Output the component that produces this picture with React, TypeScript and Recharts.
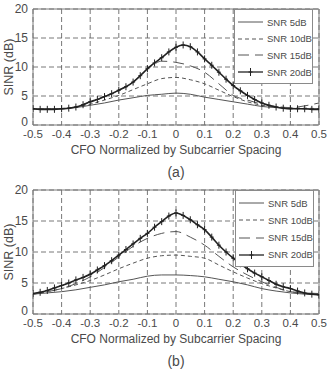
import React from 'react';
import {
  LineChart,
  Line,
  XAxis,
  YAxis,
  CartesianGrid,
  ReferenceArea,
  Label,
} from 'recharts';

// CFO grid for the thin curves (step 0.05) and the 20 dB curve (step 0.025)
const cfoCoarse = [
  -0.5, -0.45, -0.4, -0.35, -0.3, -0.25, -0.2, -0.15, -0.1, -0.05, 0,
  0.05, 0.1, 0.15, 0.2, 0.25, 0.3, 0.35, 0.4, 0.45, 0.5,
];
const cfoFine = [
  -0.5, -0.475, -0.45, -0.425, -0.4, -0.375, -0.35, -0.325, -0.3, -0.275,
  -0.25, -0.225, -0.2, -0.175, -0.15, -0.125, -0.1, -0.075, -0.05, -0.025, 0,
  0.025, 0.05, 0.075, 0.1, 0.125, 0.15, 0.175, 0.2, 0.225, 0.25, 0.275, 0.3,
  0.325, 0.35, 0.375, 0.4, 0.425, 0.45, 0.475, 0.5,
];

// panel (a)
const snr5a = [2.8, 2.8, 2.8, 3.0, 3.4, 3.8, 4.3, 4.7, 5.1, 5.3, 5.5, 5.3, 4.8, 4.4, 4.0, 3.6, 3.2, 3.0, 2.9, 2.8, 2.8];
const snr10a = [2.8, 2.8, 2.8, 3.1, 3.6, 4.3, 5.1, 6.1, 7.1, 8.0, 8.2, 7.8, 7.1, 6.0, 4.9, 4.0, 3.4, 3.1, 2.9, 2.9, 2.8];
const snr15a = [2.8, 2.7, 2.8, 3.1, 4.0, 4.9, 6.0, 7.4, 9.6, 11.0, 10.8, 10.2, 9.1, 7.1, 5.1, 4.3, 3.6, 3.2, 3.0, 3.3, 3.8];
const snr20a = [
  2.8, 2.7, 2.7, 2.7, 2.8, 2.9, 3.1, 3.5, 4.0, 4.4, 4.9, 5.4, 6.0, 6.6, 7.4,
  8.5, 9.7, 10.7, 11.6, 12.6, 13.4, 13.8, 13.5, 12.6, 11.4, 10.3, 9.1, 7.9,
  6.8, 5.9, 5.1, 4.4, 3.8, 3.4, 3.1, 2.9, 2.8, 2.8, 2.8, 2.7, 2.7,
];

// panel (b)
const snr5b = [3.2, 3.4, 3.6, 3.9, 4.3, 4.7, 5.2, 5.6, 6.1, 6.3, 6.3, 6.2, 6.0, 5.6, 5.2, 4.7, 4.1, 3.7, 3.4, 3.2, 3.1];
const snr10b = [3.2, 3.6, 4.1, 4.7, 5.4, 6.3, 7.3, 8.2, 9.0, 9.4, 9.5, 9.3, 9.0, 7.9, 6.8, 5.8, 4.9, 4.2, 3.6, 3.3, 3.1];
const snr15b = [3.2, 3.6, 4.1, 4.9, 6.0, 7.5, 9.2, 10.9, 12.2, 13.0, 13.3, 12.4, 11.1, 9.3, 7.6, 6.3, 5.2, 4.3, 3.6, 3.4, 3.3];
const snr20b = [
  3.3, 3.5, 3.8, 4.2, 4.6, 5.0, 5.5, 5.9, 6.4, 7.1, 7.8, 8.6, 9.5, 10.4, 11.3,
  12.2, 13.0, 14.0, 14.9, 15.8, 16.3, 15.9, 15.2, 14.4, 13.6, 12.4, 11.1, 10.0,
  9.0, 8.1, 7.3, 6.6, 6.0, 5.4, 4.8, 4.4, 4.1, 3.7, 3.4, 3.2, 3.1,
];

const xTicks = [-0.5, -0.4, -0.3, -0.2, -0.1, 0, 0.1, 0.2, 0.3, 0.4, 0.5];
const yTicks = [0, 5, 10, 15, 20];
const legendNames = ['SNR 5dB', 'SNR 10dB', 'SNR 15dB', 'SNR 20dB'];

const FONT = '"Liberation Sans", Arial, sans-serif';
const INK = '#4a4a4a';

const toPoints = (xs: number[], ys: number[]) => xs.map((x, i) => ({ x, y: ys[i] }));

const styles = [
  { stroke: '#555', width: 1, dash: undefined as string | undefined },
  { stroke: '#555', width: 1, dash: '4 3' },
  { stroke: '#555', width: 1, dash: '11 6' },
  { stroke: '#222', width: 1.6, dash: undefined as string | undefined },
];

const PlusDot = (props: any) => {
  const { cx, cy, index } = props;
  if (cx == null || cy == null) return <g key={index} />;
  return (
    <path
      key={index}
      d={`M${cx},${cy - 3.5}V${cy + 3.5}M${cx - 2},${cy}H${cx + 2}`}
      stroke="#222"
      strokeWidth={1}
    />
  );
};

// y tick text; the bottom "0" sits a little higher so it clears "-0.5"
const YTick = (props: any) => {
  const { x, y, payload } = props;
  const lift = payload.value === 0 ? -3 : 0;
  return (
    <text
      x={x}
      y={y + lift}
      textAnchor="end"
      dominantBaseline="central"
      fontFamily={FONT}
      fontSize={12}
      fill={INK}
    >
      {payload.value}
    </text>
  );
};

function LegendBox({ top, left, rowGap }: { top: number; left: number; rowGap: number }) {
  return (
    <div
      style={{
        position: 'absolute',
        top,
        left,
        width: 79,
        height: rowGap * 4 + 8,
        background: '#fff',
        border: '1px solid #8a8a8a',
        boxSizing: 'border-box',
        fontFamily: FONT,
        fontSize: 9.5,
        color: INK,
        whiteSpace: 'nowrap',
      }}
    >
      {legendNames.map((name, i) => (
        <div
          key={name}
          style={{
            position: 'absolute',
            top: 6 + i * rowGap,
            left: 3,
            height: 12,
            display: 'flex',
            alignItems: 'center',
          }}
        >
          <svg width={26} height={12} style={{ flex: 'none' }}>
            <line
              x1={0}
              y1={6}
              x2={25}
              y2={6}
              stroke={styles[i].stroke}
              strokeWidth={i === 3 ? 1.3 : 1}
              strokeDasharray={styles[i].dash}
            />
            {i === 3 && <path d="M12.5,2V10M10.5,6H14.5" stroke="#222" strokeWidth={1} />}
          </svg>
          <span style={{ marginLeft: 3 }}>{name}</span>
        </div>
      ))}
    </div>
  );
}

function Panel({
  series,
  tag,
  height,
  top,
  xAxisHeight,
}: {
  series: number[][];
  tag: string;
  height: number;
  top: number;
  xAxisHeight: number;
}) {
  const tick = { fill: INK, fontSize: 11.5, fontFamily: FONT };
  return (
    <LineChart
      width={328}
      height={height}
      margin={{ top, right: 9, left: 0, bottom: 0 }}
    >
      <CartesianGrid stroke="#555" strokeDasharray="5 3" strokeWidth={0.8} />
      <XAxis
        type="number"
        dataKey="x"
        domain={[-0.5, 0.5]}
        ticks={xTicks}
        interval={0}
        axisLine={false}
        tickLine={false}
        tickSize={0}
        tickMargin={5}
        height={xAxisHeight}
        tick={tick}
        allowDataOverflow
      >
        <Label
          content={(p: any) => {
            const vb = p.viewBox;
            const cx = vb.x + vb.width / 2;
            return (
              <g fontFamily={FONT} fill={INK}>
                <text x={cx} y={vb.y + 25} fontSize={12} textAnchor="middle" dominantBaseline="central">
                  CFO Normalized by Subcarrier Spacing
                </text>
                <text x={cx} y={vb.y + 47} fontSize={14} textAnchor="middle" dominantBaseline="central">
                  {tag}
                </text>
              </g>
            );
          }}
        />
      </XAxis>
      <YAxis
        type="number"
        domain={[0, 20]}
        ticks={yTicks}
        interval={0}
        width={33}
        axisLine={false}
        tickLine={false}
        tickSize={0}
        tickMargin={5}
        tick={YTick}
      >
        <Label
          content={(p: any) => {
            const vb = p.viewBox;
            const cy = vb.y + vb.height / 2;
            return (
              <text
                x={9}
                y={cy}
                transform={`rotate(-90, 9, ${cy})`}
                fontFamily={FONT}
                fontSize={12.5}
                fill={INK}
                textAnchor="middle"
                dominantBaseline="central"
              >
                SINR (dB)
              </text>
            );
          }}
        />
      </YAxis>
      {series.map((ys, i) => (
        <Line
          key={legendNames[i]}
          data={toPoints(i === 3 ? cfoFine : cfoCoarse, ys)}
          dataKey="y"
          type="monotone"
          stroke={styles[i].stroke}
          strokeWidth={styles[i].width}
          strokeDasharray={styles[i].dash}
          dot={i === 3 ? PlusDot : false}
          activeDot={false}
          isAnimationActive={false}
        />
      ))}
      <ReferenceArea x1={-0.5} x2={0.5} y1={0} y2={20} fill="none" stroke="#7a7a7a" strokeWidth={1} />
    </LineChart>
  );
}

export default function App() {
  return (
    <div style={{ position: 'absolute', left: 0, top: 0, width: 328, height: 371, background: '#fff' }}>
      <div style={{ position: 'absolute', left: 0, top: 0 }}>
        <Panel series={[snr5a, snr10a, snr15a, snr20a]} tag="(a)" height={180} top={9} xAxisHeight={55} />
      </div>
      <LegendBox top={9} left={234} rowGap={16.7} />
      <div style={{ position: 'absolute', left: 0, top: 180 }}>
        <Panel series={[snr5b, snr10b, snr15b, snr20b]} tag="(b)" height={191} top={10} xAxisHeight={57} />
      </div>
      <LegendBox top={190} left={235} rowGap={17.3} />
    </div>
  );
}
